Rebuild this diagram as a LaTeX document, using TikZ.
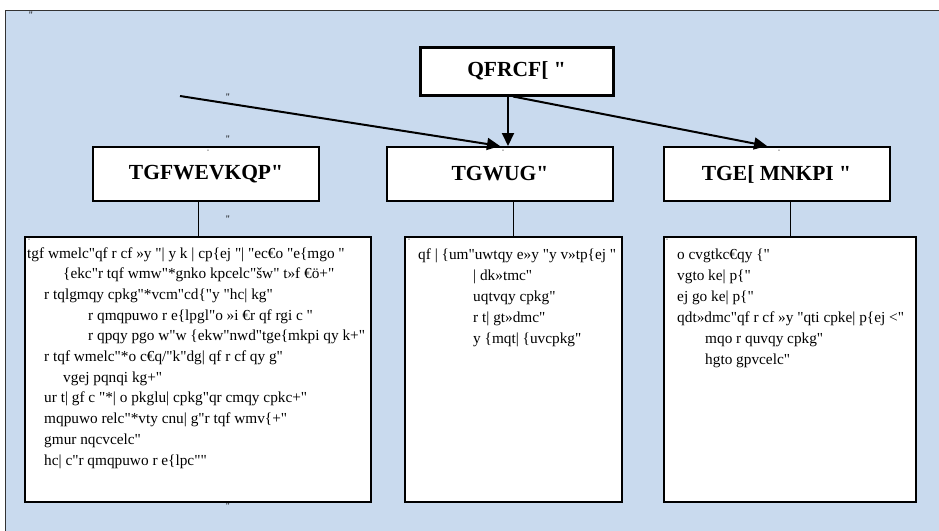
\documentclass[tikz,border=0pt]{standalone}
\usepackage{fontspec}
\setmainfont{Liberation Serif}[Ligatures=TeXOff]
\usetikzlibrary{arrows.meta,shadows}
\definecolor{bgblue}{RGB}{201,218,238}
\begin{document}
\begin{tikzpicture}[x=1pt,y=-1pt,
  title/.style={draw, line width=2pt, fill=white, inner sep=0pt,
    minimum width=226pt, minimum height=54pt,
    font=\fontsize{21.5}{24}\selectfont\bfseries},
  topbox/.style={title, line width=3pt, minimum width=193pt, minimum height=48pt},
  panel/.style={draw, line width=1.3pt, fill=white, inner sep=0pt,
    minimum height=265pt,
    drop shadow={shadow xshift=1.2pt, shadow yshift=-1.2pt, fill=black!55, opacity=1}},
  txt/.style={anchor=base west, inner sep=0pt, font=\fontsize{15.3}{18}\selectfont},
  qmark/.style={inner sep=0pt, font=\fontsize{10}{10}\selectfont},
  qtiny/.style={inner sep=0pt, font=\fontsize{5}{5}\selectfont},
  arr/.style={line width=2pt, -{Triangle[length=13pt,width=12pt]}},
  conn/.style={line width=0.8pt}]
\useasboundingbox (0,0) rectangle (939,530);
\fill[white] (0,0) rectangle (939,530);
\draw[fill=bgblue, draw=black!80, line width=1pt] (5,10) rectangle (950,545);

% top node
\node[topbox] (tD) at (516.5,71) {QFRCF[ "};
% titles
\node[title] (tL) at (206,174) {TGFWEVKQP"};
\node[title] (tM) at (500,174) {TGWUG"};
\node[title] (tR) at (776.5,174) {TGE[ MNKPI "};
% panels
\node[panel, minimum width=346pt] (pL) at (198,369.5) {};
\node[panel, minimum width=217pt] (pM) at (513.5,369.5) {};
\node[panel, minimum width=252pt] (pR) at (790,369.5) {};

% connectors
\coordinate (src) at (180,96);
\coordinate (vx) at (508,0);
\coordinate (sx) at (513,0);
\coordinate (rx) at (767,0);
\draw[arr] (src) -- (tM.north);
\draw[arr] (tD.south -| vx) -- (tM.north -| vx);
\draw[arr] (tD.south -| sx) -- (tR.north -| rx);
\draw[conn] (tL.south -| pL.north) -- (pL.north);
\draw[conn] (tM.south -| pM.north) -- (pM.north);
\draw[conn] (tR.south -| pR.north) -- (pR.north);

% stray marks
\node[qmark] (m1) at (31,15) {"};
\node[qmark] (m2) at (228,97) {"};
\node[qmark] (m3) at (228,139) {"};
\node[qmark] (m4) at (228,219) {"};
\node[qmark] (m5) at (228,506) {"};
\node[qtiny] (m6) at (520,49) {"};
\node[qtiny] (m7) at (208,152) {"};
\node[qtiny] (m8) at (503,152) {"};
\node[qtiny] (m9) at (779,152) {"};
\node[qtiny] (m10) at (29,241) {"};
\node[qtiny] (m11) at (409,241) {"};
\node[qtiny] (m12) at (667,241) {"};

% left panel text
\node[txt] (a1) at (27,258) {tgf wmelc"qf r cf »y "| y k | cp\{ej "| "ec€o "e\{mgo "};
\node[txt] (a2) at (63,278.7) {\{ekc"r tqf wmw"*gnko kpcelc"šw" t»f €ö+"};
\node[txt] (a3) at (44,299.4) {r tqlgmqy cpkg"*vcm"cd\{"y "hc| kg"};
\node[txt] (a4) at (88,320.1) {r qmqpuwo r e\{lpgl"o »i €r qf rgi c "};
\node[txt] (a5) at (88,340.8) {r qpqy pgo w"w \{ekw"nwd"tge\{mkpi qy k+"};
\node[txt] (a6) at (44,361.5) {r tqf wmelc"*o c€q/"k"dg| qf r cf qy g"};
\node[txt] (a7) at (63,382.2) {vgej pqnqi kg+"};
\node[txt] (a8) at (44,402.9) {ur t| gf c "*| o pkglu| cpkg"qr cmqy cpkc+"};
\node[txt] (a9) at (44,423.6) {mqpuwo relc"*vty cnu| g"r tqf wmv\{+"};
\node[txt] (a10) at (44,444.3) {gmur nqcvcelc"};
\node[txt] (a11) at (44,465) {hc| c"r qmqpuwo r e\{lpc""};

% middle panel text
\node[txt] (b1) at (418,259) {qf | \{um"uwtqy e»y "y v»tp\{ej "};
\node[txt] (b2) at (473,280) {| dk»tmc"};
\node[txt] (b3) at (473,301) {uqtvqy cpkg"};
\node[txt] (b4) at (473,322) {r t| gt»dmc"};
\node[txt] (b5) at (473,343) {y \{mqt| \{uvcpkg"};

% right panel text
\node[txt] (c1) at (677,259) {o cvgtkc€qy \{"};
\node[txt] (c2) at (677,280) {vgto ke| p\{"};
\node[txt] (c3) at (677,301) {ej go ke| p\{"};
\node[txt] (c4) at (677,322) {qdt»dmc"qf r cf »y "qti cpke| p\{ej <"};
\node[txt] (c5) at (705,343) {mqo r quvqy cpkg"};
\node[txt] (c6) at (705,364) {hgto gpvcelc"};
\end{tikzpicture}
\end{document}
